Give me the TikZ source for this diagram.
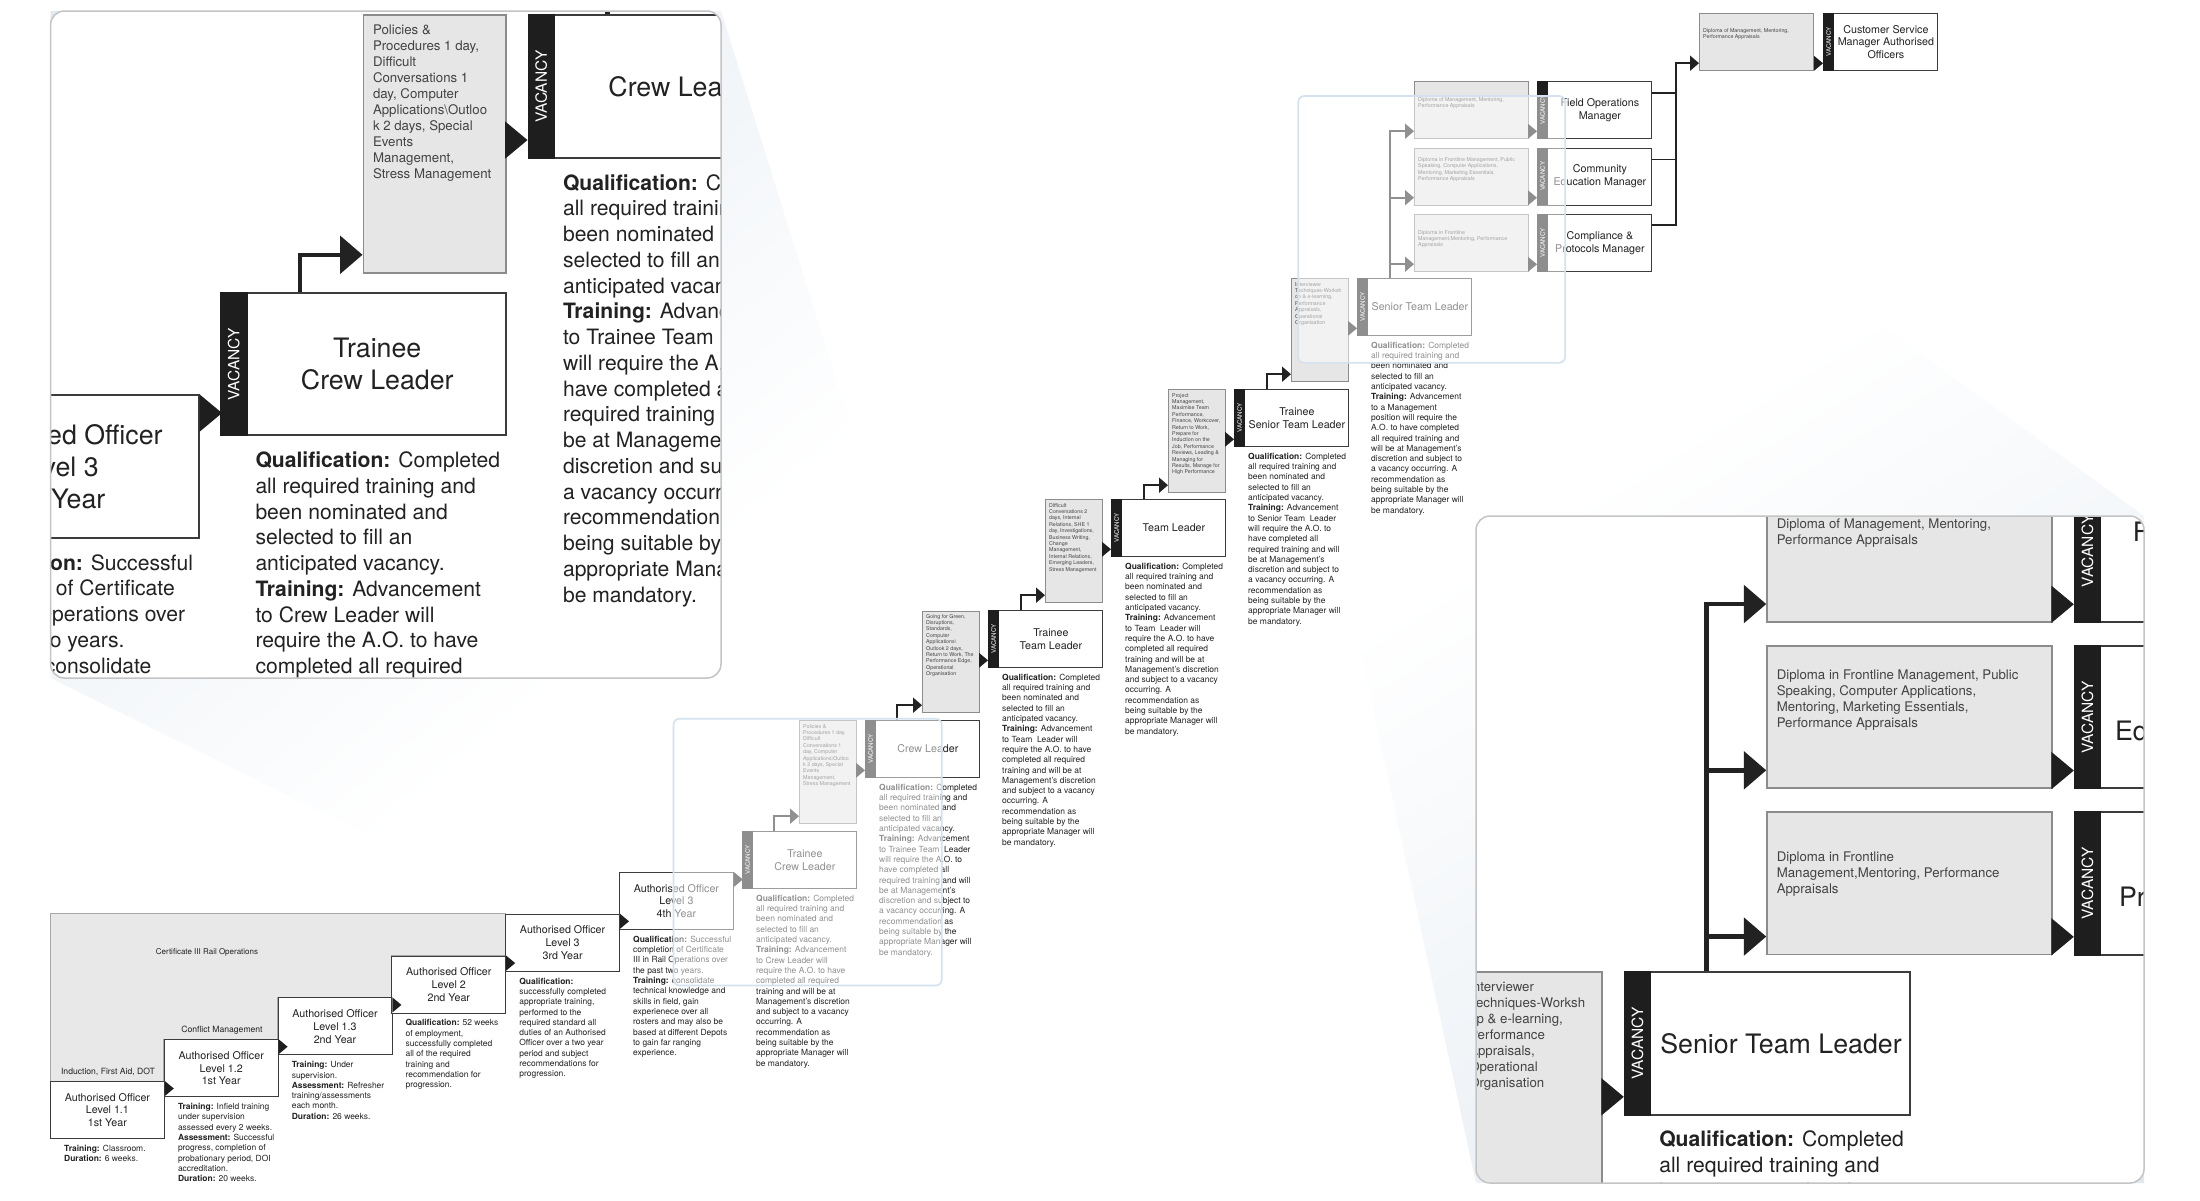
\documentclass[tikz,border=0pt]{standalone}
\usepackage{fontspec}
\setmainfont{TeX Gyre Heros}
\usetikzlibrary{arrows.meta,calc}

\definecolor{ink}{HTML}{222222}
\definecolor{boxline}{HTML}{3C3C3C}
\definecolor{tbfill}{HTML}{E6E6E6}
\definecolor{tbline}{HTML}{8C8C8C}
\definecolor{bgfill}{HTML}{E8E8E8}
\definecolor{bgline}{HTML}{A8A8A8}
\definecolor{vacfill}{HTML}{1E1E1E}
\definecolor{srcblue}{HTML}{D3E2EE}
\definecolor{beamblue}{HTML}{D6E1EB}
\definecolor{panelline}{HTML}{C4C4C4}

\pgfdeclareverticalshading{beamfade}{100bp}{color(0bp)=(white); color(40bp)=(white); color(100bp)=(beamblue)}

\newcommand\mytitlefont{\fontsize{10.7}{12.8}\selectfont}
\newcommand\mydescfont{\fontsize{8.45}{10.3}\selectfont}
\newcommand\mytbfont{\fontsize{5.3}{6.4}\selectfont}
\newcommand\myvacfont{\fontsize{6.2}{7}\selectfont}
\newcommand\mylabfont{\fontsize{8.6}{10}\selectfont}

\tikzset{
  aobox/.style={draw=boxline, fill=white, line width=0.8pt, minimum width=114pt, minimum height=57pt, inner sep=0pt, anchor=north west, align=center, font=\mytitlefont, text=ink},
  jobbox/.style={draw=boxline, fill=white, line width=0.8pt, minimum width=114pt, minimum height=57pt, inner sep=0pt, anchor=north west},
  tbox/.style={draw=tbline, fill=tbfill, line width=0.7pt, inner sep=0pt, anchor=north west},
  jtitle/.style={align=center, font=\mytitlefont, text=ink, inner sep=0pt},
  desc/.style={align=left, font=\mydescfont, text=ink, inner sep=0pt, anchor=north west},
  tbtext/.style={align=left, font=\mytbfont, text=ink!85, inner sep=0pt, anchor=north west},
  vactext/.style={rotate=90, font=\myvacfont, text=white, inner sep=0pt},
  labtext/.style={font=\mylabfont, text=ink, inner sep=0pt},
  conn/.style={draw=ink, line width=1.8pt, -{Triangle[length=9pt,width=15pt]}},
  busline/.style={draw=ink, line width=1.8pt},
}

\newcommand\AObox[4]{\node[aobox] (#1) at (#2,#3) {#4};}
\newcommand\VACbox[4]{%
  \node[jobbox] (#1) at (#2,#3) {};
  \fill[vacfill] (#1.north west) rectangle ($(#1.south west)+(11,0)$);
  \node[vactext] (#1-vac) at ($(#1.west)+(5.5,0)$) {VACANCY};
  \node[jtitle] (#1-title) at ($(#1.center)+(5.5,0)$) {#4};}
\newcommand\TRbox[7]{%
  \node[tbox, minimum width=#4pt, minimum height=#5pt] (#1) at (#2,#3) {};
  \node[tbtext] (#1-text) at ($(#1.north west)+(4,#6)$) {#7};}
\newcommand\DESC[2]{\node[desc] (#1-desc) at ($(#1.south west)+(14,6)$) {#2};}
\newcommand\TIP[1]{\fill[vacfill] #1 -- ++(-9,-7.5) -- ++(0,15) -- cycle;}

\newcommand\basediagram{%
  % grey training band behind the first years
  \filldraw[fill=bgfill, draw=bgline, line width=0.7pt] (50,913.8) -- (505.2,913.8) -- (505.2,955.6) -- (391.4,955.6) -- (391.4,997.4) -- (277.6,997.4) -- (277.6,1039.2) -- (163.8,1039.2) -- (163.8,1081) -- (50,1081) -- cycle;
  \node[labtext, font=\fontsize{8}{9.6}\selectfont] (lab-cert) at (207,952) {Certificate III Rail Operations};
  \node[labtext] (lab-ind) at (108,1072) {Induction, First Aid, DOT};
  \node[labtext] (lab-conf) at (222,1030) {Conflict Management};
  % authorised officer staircase
  \AObox{b1}{50}{1081}{Authorised Officer\\Level 1.1\\1st Year}
  \AObox{b2}{163.8}{1039.2}{Authorised Officer\\Level 1.2\\1st Year}
  \AObox{b3}{277.6}{997.4}{Authorised Officer\\Level 1.3\\2nd Year}
  \AObox{b4}{391.4}{955.6}{Authorised Officer\\Level 2\\2nd Year}
  \AObox{b5}{505.2}{913.8}{Authorised Officer\\Level 3\\3rd Year}
  \AObox{b6}{619}{872}{Authorised Officer\\Level 3\\4th Year}
  \TIP{($(b1.north east)+(9,7.5)$)}
  \TIP{($(b2.north east)+(9,7.5)$)}
  \TIP{($(b3.north east)+(9,7.5)$)}
  \TIP{($(b4.north east)+(9,7.5)$)}
  \TIP{($(b5.north east)+(9,7.5)$)}
  \TIP{($(b6.north east)+(9,7.5)$)}
  \DESC{b1}{\textbf{Training:} Classroom.\\\textbf{Duration:} 6 weeks.}
  \DESC{b2}{\textbf{Training:} Infield training\\under supervision\\assessed every 2 weeks.\\\textbf{Assessment:} Successful\\progress, completion of\\probationary period, DOI\\accreditation.\\\textbf{Duration:} 20 weeks.}
  \DESC{b3}{\textbf{Training:} Under\\supervision.\\\textbf{Assessment:} Refresher\\training/assessments\\each month.\\\textbf{Duration:} 26 weeks.}
  \DESC{b4}{\textbf{Qualification:} 52 weeks\\of employment,\\successfully completed\\all of the required\\training and\\recommendation for\\progression.}
  \DESC{b5}{\textbf{Qualification:}\\successfully completed\\appropriate training,\\performed to the\\required standard all\\duties of an Authorised\\Officer over a two year\\period and subject\\recommendations for\\progression.}
  \DESC{b6}{\textbf{Qualification:} Successful\\completion of Certificate\\III in Rail Operations over\\the past two years.\\\textbf{Training:} consolidate\\technical knowledge and\\skills in field, gain\\experienece over all\\rosters and may also be\\based at different Depots\\to gain far ranging\\experience.}
  % trainee crew leader
  \VACbox{t1}{742}{831}{Trainee\\Crew Leader}
  \DESC{t1}{\textbf{Qualification:} Completed\\all required training and\\been nominated and\\selected to fill an\\anticipated vacancy.\\\textbf{Training:} Advancement\\to Crew Leader will\\require the A.O. to have\\completed all required\\training and will be at\\Management’s discretion\\and subject to a vacancy\\occurring. A\\recommendation as\\being suitable by the\\appropriate Manager will\\be mandatory.}
  \TRbox{tb1}{799}{720}{57}{103}{4}{Policies \&\\Procedures 1 day,\\Difficult\\Conversations 1\\day, Computer\\Applications\textbackslash Outloo\\k 2 days, Special\\Events\\Management,\\Stress Management}
  \draw[conn] ($(t1.north west)+(32,0)$) |- ($(tb1.south west)+(0,-7.5)$);
  % crew leader
  \VACbox{c1}{865}{720}{Crew Leader}
  \TIP{($(c1.south west)+(0,-7.5)$)}
  \DESC{c1}{\textbf{Qualification:} Completed\\all required training and\\been nominated and\\selected to fill an\\anticipated vacancy.\\\textbf{Training:} Advancement\\to Trainee Team\ \ Leader\\will require the A.O. to\\have completed all\\required training and will\\be at Management’s\\discretion and subject to\\a vacancy occurring. A\\recommendation as\\being suitable by the\\appropriate Manager will\\be mandatory.}
  \TRbox{tb2}{922}{611}{57}{101}{3}{Going for Green,\\Disruptions,\\Standards,\\Computer\\Applications\textbackslash\\Outlook 2 days,\\Return to Work, The\\Performance Edge,\\Operational\\Organisation}
  \draw[conn] ($(c1.north west)+(32,0)$) |- ($(tb2.south west)+(0,-7.5)$);
  % trainee team leader
  \VACbox{t2}{988}{610}{Trainee\\Team Leader}
  \TIP{($(t2.south west)+(0,-7.5)$)}
  \DESC{t2}{\textbf{Qualification:} Completed\\all required training and\\been nominated and\\selected to fill an\\anticipated vacancy.\\\textbf{Training:} Advancement\\to Team\ \ Leader will\\require the A.O. to have\\completed all required\\training and will be at\\Management’s discretion\\and subject to a vacancy\\occurring. A\\recommendation as\\being suitable by the\\appropriate Manager will\\be mandatory.}
  \TRbox{tb3}{1045}{499}{57}{103}{4}{Difficult\\Conversations 2\\days, Internal\\Relations, SHE 1\\day, Investigations,\\Business Writing,\\Change\\Management,\\Internal Relations,\\Emerging Leaders,\\Stress Management}
  \draw[conn] ($(t2.north west)+(33,0)$) |- ($(tb3.south west)+(0,-7.5)$);
  % team leader
  \VACbox{c2}{1111}{499}{Team Leader}
  \TIP{($(c2.south west)+(0,-7.5)$)}
  \DESC{c2}{\textbf{Qualification:} Completed\\all required training and\\been nominated and\\selected to fill an\\anticipated vacancy.\\\textbf{Training:} Advancement\\to Team\ \ Leader will\\require the A.O. to have\\completed all required\\training and will be at\\Management’s discretion\\and subject to a vacancy\\occurring. A\\recommendation as\\being suitable by the\\appropriate Manager will\\be mandatory.}
  \TRbox{tb4}{1168}{389}{57}{103}{4}{Project\\Management,\\Maximise Team\\Performance,\\Finance, Workcover,\\Return to Work,\\Prepare for\\Induction on the\\Job, Performance\\Reviews, Leading \&\\Managing for\\Results, Manage for\\High Performance}
  \draw[conn] ($(c2.north west)+(33,0)$) |- ($(tb4.south west)+(0,-7.5)$);
  % trainee senior team leader
  \VACbox{t3}{1234}{389}{Trainee\\Senior Team Leader}
  \TIP{($(t3.south west)+(0,-7.5)$)}
  \DESC{t3}{\textbf{Qualification:} Completed\\all required training and\\been nominated and\\selected to fill an\\anticipated vacancy.\\\textbf{Training:} Advancement\\to Senior Team\ \ Leader\\will require the A.O. to\\have completed all\\required training and will\\be at Management’s\\discretion and subject to\\a vacancy occurring. A\\recommendation as\\being suitable by the\\appropriate Manager will\\be mandatory.}
  \TRbox{tb5}{1291}{278}{57}{103}{4}{Interviewer\\Techniques-Worksh\\op \& e-learning,\\Performance\\Appraisals,\\Operational\\Organisation}
  \draw[conn] ($(t3.north west)+(33,0)$) |- ($(tb5.south west)+(0,-7.5)$);
  % senior team leader
  \VACbox{stl}{1357}{278}{Senior Team Leader}
  \TIP{($(stl.south west)+(0,-7.5)$)}
  \DESC{stl}{\textbf{Qualification:} Completed\\all required training and\\been nominated and\\selected to fill an\\anticipated vacancy.\\\textbf{Training:} Advancement\\to a Management\\position will require the\\A.O. to have completed\\all required training and\\will be at Management’s\\discretion and subject to\\a vacancy occurring. A\\recommendation as\\being suitable by the\\appropriate Manager will\\be mandatory.}
  % management training boxes
  \TRbox{tbm1}{1414}{81}{114}{57}{16}{Diploma of Management, Mentoring,\\Performance Appraisals}
  \TRbox{tbm2}{1414}{147.5}{114}{57}{10}{Diploma in Frontline Management, Public\\Speaking, Computer Applications,\\Mentoring, Marketing Essentials,\\Performance Appraisals}
  \TRbox{tbm3}{1414}{214}{114}{57}{16}{Diploma in Frontline\\Management,Mentoring, Performance\\Appraisals}
  \draw[conn] ($(stl.north west)+(33,0)$) |- ($(tbm1.south west)+(0,-7.5)$);
  \draw[conn] ($(stl.north west)+(33,0)$) |- ($(tbm2.south west)+(0,-7.5)$);
  \draw[conn] ($(stl.north west)+(33,0)$) |- ($(tbm3.south west)+(0,-7.5)$);
  % managers
  \VACbox{m1}{1537}{81}{Field Operations\\Manager}
  \VACbox{m2}{1537}{147.5}{Community\\Education Manager}
  \VACbox{m3}{1537}{214}{Compliance \&\\Protocols Manager}
  \TIP{($(m1.south west)+(0,-7.5)$)}
  \TIP{($(m2.south west)+(0,-7.5)$)}
  \TIP{($(m3.south west)+(0,-7.5)$)}
  % customer service manager
  \TRbox{tbcs}{1699}{13}{114}{57}{15}{Diploma of Management, Mentoring,\\Performance Appraisals}
  \VACbox{csm}{1823}{13}{Customer Service\\Manager Authorised\\Officers}
  \TIP{($(csm.south west)+(0,-7.5)$)}
  \draw[busline] ($(m1.north east)+(0,12)$) -- ++(24,0);
  \draw[busline] ($(m2.north east)+(0,12)$) -- ++(24,0);
  \draw[conn] ($(m3.north east)+(0,11)$) -- ++(24,0) |- ($(tbcs.south west)+(0,-7.5)$);
}

\begin{document}
\begin{tikzpicture}[x=1pt, y=-1pt]
\useasboundingbox (0,0) rectangle (2200,1200);
\fill[white] (0,0) rectangle (2200,1200);
% light beams of the two magnifiers
\shade[shading=beamfade, shading angle=40] (50.5,11) -- (721,11) -- (941.7,718.7) -- (941.7,985.5) -- (673.5,985.5) -- (50.5,678) -- cycle;
\shade[shading=beamfade, shading angle=-148] (1298.2,96) -- (1565.1,96) -- (2144,516) -- (2144,1183) -- (1476,1183) -- (1298.2,362.8) -- cycle;
% the career path
\basediagram
% faded source regions
\fill[white, opacity=0.5, rounded corners=6] (673.5,718.7) rectangle (941.7,985.5);
\fill[white, opacity=0.5, rounded corners=6] (1298.2,96) rectangle (1565.1,362.8);
\draw[srcblue, line width=1.6pt, rounded corners=6] (673.5,718.7) rectangle (941.7,985.5);
\draw[srcblue, line width=1.6pt, rounded corners=6] (1298.2,96) rectangle (1565.1,362.8);
% magnified panel top left
\fill[white, rounded corners=14] (50.5,11) rectangle (721,678);
\begin{scope}[transform canvas={shift={(-1635,-1785.7)}, scale=2.5}]
  \clip[rounded corners=5.6] (674.2,718.7) rectangle (942.4,985.5);
  \basediagram
\end{scope}
\draw[panelline, line width=1.5pt, rounded corners=14] (50.5,11) rectangle (721,678);
% magnified panel bottom right
\fill[white, rounded corners=14] (1476,516) rectangle (2144,1183);
\begin{scope}[transform canvas={shift={(-1768.75,276.05)}, scale=2.5}]
  \clip[rounded corners=5.6] (1298.2,96) rectangle (1565.1,362.8);
  \basediagram
\end{scope}
\draw[panelline, line width=1.5pt, rounded corners=14] (1476,516) rectangle (2144,1183);
\end{tikzpicture}
\end{document}
